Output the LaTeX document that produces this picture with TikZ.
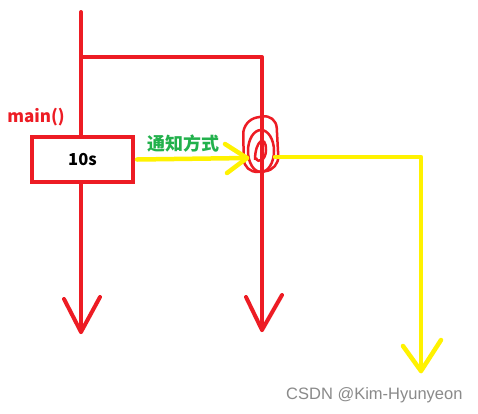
\documentclass[tikz,border=0pt]{standalone}
\usepackage{fontspec}
\newfontfamily\cjk{Noto Sans CJK SC}
\newfontfamily\wmfont{Liberation Sans}
\definecolor{pred}{HTML}{ED1C24}
\definecolor{pyel}{HTML}{FFF200}
\definecolor{pgreen}{HTML}{22B14C}
\definecolor{wmgray}{HTML}{8A8A8A}
\begin{document}
\begin{tikzpicture}[x=1pt,y=-1pt,
  redline/.style={pred, line width=4pt, line cap=round, line join=round},
  yelline/.style={pyel, line width=4.5pt, line cap=round, line join=round},
  scribble/.style={pred, line width=2.5pt},
  boxnode/.style={draw=pred, line width=4pt, fill=white, minimum width=101pt, minimum height=45pt, inner sep=0pt, font=\cjk\bfseries\fontsize{16.5}{18}\selectfont},
  labred/.style={text=pred, font=\cjk\bfseries\fontsize{17}{20}\selectfont, inner sep=0pt},
  labgreen/.style={text=pgreen, font=\cjk\bfseries\fontsize{18}{20}\selectfont, inner sep=0pt},
  watermark/.style={text=wmgray, font=\wmfont\fontsize{16.5}{19}\selectfont, inner sep=0pt}]
\useasboundingbox (0,0) rectangle (478,413);
\fill[white] (0,0) rectangle (478,413);
% left line
\coordinate (Ltop) at (81,12);
\coordinate (Lbot) at (81,332);
\coordinate (La1) at (64,299);
\coordinate (La2) at (100,297);
\draw[redline] (Ltop) -- (Lbot);
\draw[redline] (La1) -- (Lbot) -- (La2);
% branch
\coordinate (Bl) at (81,57);
\coordinate (Br) at (262,57);
\coordinate (Mbot) at (262,330);
\coordinate (Ma1) at (246,297);
\coordinate (Ma2) at (282,295);
\draw[redline] (Bl) -- (Br) -- (Mbot);
\draw[redline] (Ma1) -- (Mbot) -- (Ma2);
% box
\node[boxnode] (box) at (82.5,159.5) {10s};
\node[labred] (main) at (36,117) {main()};
% scribble
\draw[scribble, rounded corners=14pt] (243,120) -- (276,114) -- (279,170) -- (244,173) -- cycle;
\draw[scribble] (261,151) ellipse [x radius=13, y radius=21];
\draw[scribble] (255,160) .. controls (255,140) and (266,134) .. (266,150) .. controls (266,160) and (258,164) .. (256,158);
% yellow arrow from box
\coordinate (Ytip) at (247,158);
\coordinate (Ya1) at (225,144);
\coordinate (Ya2) at (227,173);
\path (box.east) ++(2,0) coordinate (Ystart);
\draw[yelline] (Ystart) -- (Ytip);
\draw[yelline] (Ya1) -- (Ytip) -- (Ya2);
\node[labgreen] (notify) at (183,144) {通知方式};
% yellow line right
\coordinate (Y2s) at (275,157);
\coordinate (Y2c) at (421,157);
\coordinate (Y2b) at (421,371);
\coordinate (Y2a1) at (403,346);
\coordinate (Y2a2) at (441,340);
\draw[yelline] (Y2s) -- (Y2c) -- (Y2b);
\draw[yelline] (Y2a1) -- (Y2b) -- (Y2a2);
% watermark
\node[watermark, anchor=west] (wm) at (286,395) {CSDN @Kim-Hyunyeon};
\end{tikzpicture}
\end{document}
